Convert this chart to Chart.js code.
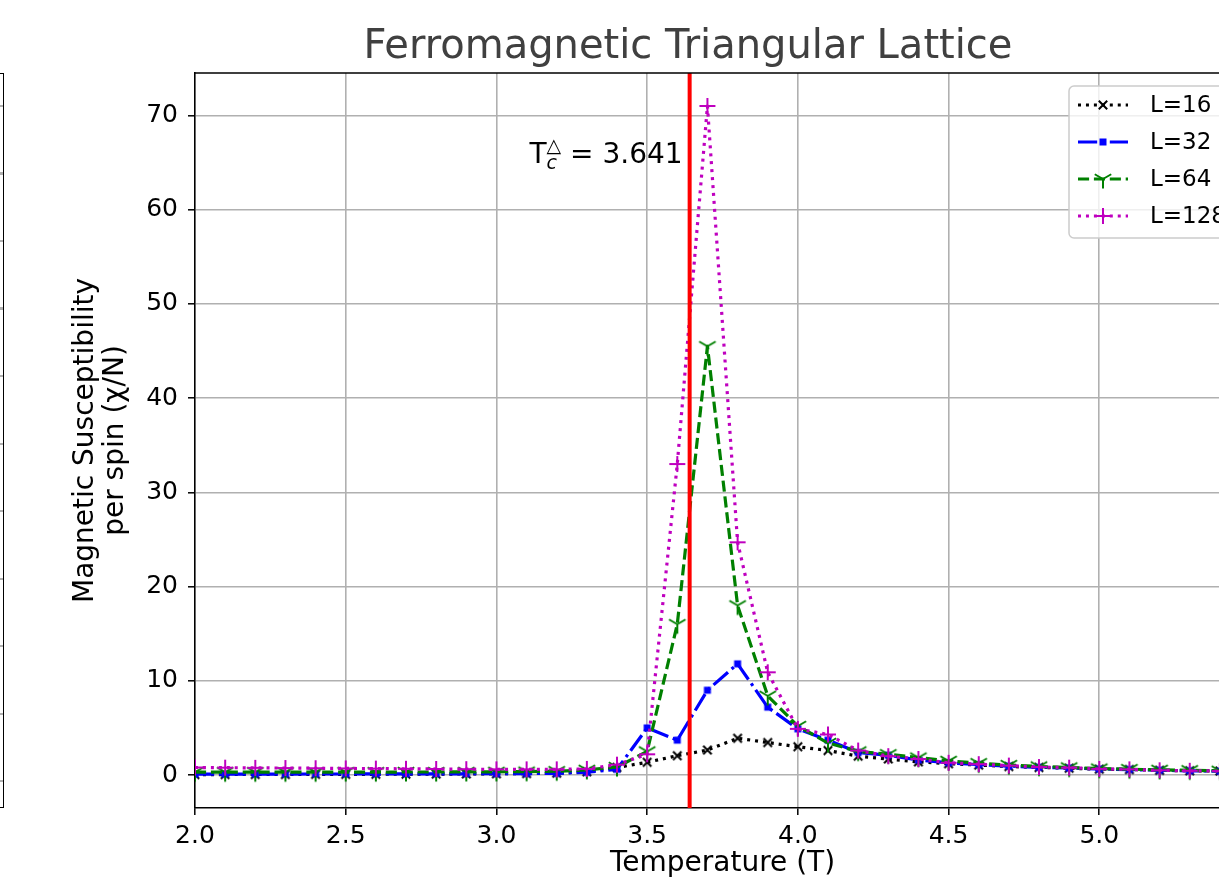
<!DOCTYPE html>
<html>
<head>
<meta charset="utf-8">
<script src="https://cdn.jsdelivr.net/npm/chart.js@4.4.1/dist/chart.umd.min.js"></script>
<style>
  html, body { margin: 0; padding: 0; overflow: hidden; background: #fff; }
  #wrap { position: relative; width: 1376px; height: 886px; }
  #c { position: absolute; left: 0; top: 0; }
  #edge {
    position: absolute; left: 0; top: 73px; width: 3px; height: 733px;
    border-right: 1.5px solid #000; border-top: 1.5px solid #000; border-bottom: 1.5px solid #000;
    background: repeating-linear-gradient(to bottom, transparent 0px, transparent 31px, #b0b0b0 31px, #b0b0b0 33px, transparent 33px, transparent 67.5px);
  }
</style>
</head>
<body>
<div id="wrap">
  <canvas id="c" width="1376" height="886"></canvas>
  <div id="edge"></div>
</div>
<script>
// ---------------- data ----------------
const TEMPS = [2.0,2.1,2.2,2.3,2.4,2.5,2.6,2.7,2.8,2.9,3.0,3.1,3.2,3.3,3.4,3.5,3.6,3.7,3.8,3.9,4.0,4.1,4.2,4.3,4.4,4.5,4.6,4.7,4.8,4.9,5.0,5.1,5.2,5.3,5.4,5.5];
const CHI_L16 = [0.05,0.05,0.06,0.06,0.07,0.07,0.08,0.09,0.10,0.11,0.13,0.16,0.20,
                 0.35,0.80,1.35,2.05,2.65,3.90,3.45,3.00,2.60,2.00,1.70,1.40,1.20,1.05,0.90,0.80,0.72,0.62,0.58,0.50,0.45,0.42,0.38];
const CHI_L32 = [0.10,0.10,0.10,0.10,0.11,0.11,0.12,0.12,0.13,0.13,0.14,0.15,0.18,
                 0.30,0.60,5.00,3.70,9.00,11.80,7.20,4.90,3.70,2.40,2.10,1.60,1.30,1.10,0.95,0.82,0.75,0.63,0.58,0.50,0.45,0.40,0.37];
const CHI_L64 = [0.30,0.30,0.30,0.30,0.30,0.31,0.31,0.32,0.32,0.33,0.34,0.36,0.40,
                 0.55,0.85,2.50,16.0,45.5,18.0,8.40,5.20,3.40,2.50,2.20,1.85,1.50,1.25,1.05,0.90,0.80,0.68,0.62,0.55,0.50,0.45,0.42];
const CHI_L128 = [0.80,0.78,0.76,0.74,0.72,0.70,0.68,0.66,0.64,0.62,0.60,0.60,0.60,
                  0.65,1.10,2.20,33.0,71.0,24.7,10.9,4.90,4.30,2.60,2.00,1.70,1.30,1.15,1.00,0.85,0.78,0.65,0.60,0.50,0.45,0.42,0.40];
const SERIES_LABELS = ['L=16','L=32','L=64','L=128'];
const X_TICKS = [2.0,2.5,3.0,3.5,4.0,4.5,5.0,5.5];
const Y_TICKS = [0,10,20,30,40,50,60,70];
const TC = 3.641;
const TC_LABEL_Y = 65;
const TITLE = 'Ferromagnetic Triangular Lattice';
const X_TITLE = 'Temperature (T)';
const Y_TITLE = ['Magnetic Susceptibility', 'per spin (\u03C7/N)'];

// ---------------- styling helpers ----------------
const FONT = 'DejaVu Sans';
function drawMarker(ctx, kind, x, y, color) {
  ctx.save();
  ctx.strokeStyle = color; ctx.fillStyle = color; ctx.setLineDash([]);
  ctx.lineCap = 'butt';
  ctx.beginPath();
  if (kind === 'x') {
    const d = 4.2; ctx.lineWidth = 2;
    ctx.moveTo(x-d, y-d); ctx.lineTo(x+d, y+d);
    ctx.moveTo(x+d, y-d); ctx.lineTo(x-d, y+d);
    ctx.stroke();
  } else if (kind === 'sq') {
    const s = 3.5;
    ctx.fillRect(x-s, y-s, 2*s, 2*s);
  } else if (kind === '+') {
    const d = 8; ctx.lineWidth = 2;
    ctx.moveTo(x-d, y); ctx.lineTo(x+d, y);
    ctx.moveTo(x, y-d); ctx.lineTo(x, y+d);
    ctx.stroke();
  } else if (kind === 'tri') {
    const r = 9.5; ctx.lineWidth = 2;
    ctx.moveTo(x, y); ctx.lineTo(x, y + r);
    ctx.moveTo(x, y); ctx.lineTo(x - r*0.866, y - r*0.5);
    ctx.moveTo(x, y); ctx.lineTo(x + r*0.866, y - r*0.5);
    ctx.stroke();
  }
  ctx.restore();
}
function markerImage(kind, color) {
  const c = document.createElement('canvas');
  c.width = 22; c.height = 22;
  drawMarker(c.getContext('2d'), kind, 11, 11, color);
  return c;
}

const STYLES = [
  { color: '#000000', dash: [3, 4.95], marker: 'x' },
  { color: '#0000ff', dash: [19.2, 4.8, 3, 4.8], marker: 'sq' },
  { color: '#008000', dash: [11.1, 4.8], marker: 'tri' },
  { color: '#bf00bf', dash: [3, 4.95], marker: '+' }
];
const SERIES = [CHI_L16, CHI_L32, CHI_L64, CHI_L128];

const datasets = SERIES.map((vals, i) => ({
  label: SERIES_LABELS[i],
  data: TEMPS.map((t, k) => ({ x: t, y: vals[k] })),
  borderColor: STYLES[i].color,
  backgroundColor: STYLES[i].color,
  borderWidth: 3.2,
  borderDash: STYLES[i].dash,
  borderCapStyle: 'butt',
  borderJoinStyle: 'round',
  pointStyle: markerImage(STYLES[i].marker, STYLES[i].color),
  pointRadius: 5,
  tension: 0,
  fill: false,
  clip: 0,
  order: SERIES.length - i
}));

// ---------------- plugins ----------------
const extrasPlugin = {
  id: 'extras',
  afterDatasetsDraw(chart) {
    const ctx = chart.ctx, ca = chart.chartArea;
    const xs = chart.scales.x, ys = chart.scales.y;
    const px = xs.getPixelForValue(TC);
    ctx.save();
    ctx.beginPath(); ctx.rect(ca.left, ca.top, ca.right - ca.left, ca.bottom - ca.top); ctx.clip();
    ctx.strokeStyle = '#ff0000'; ctx.lineWidth = 4; ctx.setLineDash([]);
    ctx.beginPath(); ctx.moveTo(px, ca.top); ctx.lineTo(px, ca.bottom); ctx.stroke();
    ctx.restore();

    ctx.save();
    ctx.fillStyle = '#000';
    ctx.textBaseline = 'alphabetic';
    const base = ys.getPixelForValue(TC_LABEL_Y);
    const big = '28px "' + FONT + '"', small = '19px "' + FONT + '"', smallIt = 'italic 19px "' + FONT + '"';
    const rest = ' = ' + TC.toFixed(3);
    ctx.font = big; const wRest = ctx.measureText(rest).width; const wT = ctx.measureText('T').width;
    ctx.font = small; const wSup = ctx.measureText('\u25B3').width;
    ctx.font = smallIt; const wSub = ctx.measureText('c').width;
    const wScr = Math.max(wSup, wSub);
    const right = px - 7;
    let x = right - wRest - wScr - wT;
    ctx.font = big; ctx.fillText('T', x, base); x += wT;
    ctx.font = small; ctx.fillText('\u25B3', x, base - 11);
    ctx.font = smallIt; ctx.fillText('c', x, base + 6);
    x += wScr;
    ctx.font = big; ctx.fillText(rest, x, base);
    ctx.restore();
  },
  afterDraw(chart) {
    const ctx = chart.ctx, ca = chart.chartArea;
    ctx.save();
    ctx.strokeStyle = '#000'; ctx.lineWidth = 1.5; ctx.setLineDash([]);
    ctx.beginPath();
    ctx.moveTo(ca.left, ca.top); ctx.lineTo(ca.right, ca.top); ctx.lineTo(ca.right, ca.bottom);
    ctx.stroke();
    ctx.restore();

    const bx = ca.right - 181, by = ca.top + 13, bw = 170, bh = 152, rr = 5;
    ctx.save();
    ctx.beginPath();
    ctx.moveTo(bx + rr, by); ctx.lineTo(bx + bw - rr, by); ctx.arcTo(bx + bw, by, bx + bw, by + rr, rr);
    ctx.lineTo(bx + bw, by + bh - rr); ctx.arcTo(bx + bw, by + bh, bx + bw - rr, by + bh, rr);
    ctx.lineTo(bx + rr, by + bh); ctx.arcTo(bx, by + bh, bx, by + bh - rr, rr);
    ctx.lineTo(bx, by + rr); ctx.arcTo(bx, by, bx + rr, by, rr);
    ctx.closePath();
    ctx.fillStyle = 'rgba(255,255,255,0.8)'; ctx.fill();
    ctx.strokeStyle = '#cccccc'; ctx.lineWidth = 1.5; ctx.stroke();
    chart.data.datasets.forEach((ds, i) => {
      const cy = by + 19 + i * 37;
      const x0 = bx + 9, x1 = bx + 59;
      ctx.save();
      ctx.strokeStyle = ds.borderColor; ctx.lineWidth = ds.borderWidth;
      ctx.lineCap = 'butt'; ctx.setLineDash(ds.borderDash);
      ctx.beginPath(); ctx.moveTo(x0, cy); ctx.lineTo(x1, cy); ctx.stroke();
      ctx.restore();
      drawMarker(ctx, STYLES[i].marker, (x0 + x1) / 2, cy, STYLES[i].color);
      ctx.fillStyle = '#000';
      ctx.font = '23px "' + FONT + '"';
      ctx.textBaseline = 'middle';
      ctx.fillText(ds.label, bx + 81, cy + 1);
    });
    ctx.restore();
  }
};

// ---------------- chart ----------------
Chart.defaults.font.family = FONT;
new Chart(document.getElementById('c'), {
  type: 'line',
  data: { datasets },
  plugins: [extrasPlugin],
  options: {
    responsive: false,
    animation: false,
    events: [],
    layout: { padding: 0 },
    plugins: {
      legend: { display: false },
      tooltip: { enabled: false },
      title: {
        display: true,
        text: TITLE,
        color: '#404040',
        font: { family: FONT, size: 40, weight: 'normal', lineHeight: 1.2 },
        padding: { top: 24, bottom: 1 }
      }
    },
    scales: {
      x: {
        type: 'linear',
        min: 2.0, max: 5.5,
        afterBuildTicks: (s) => { s.ticks = X_TICKS.map(v => ({ value: v })); },
        afterFit: (s) => { s.height = 78; },
        ticks: {
          autoSkip: false, maxRotation: 0, padding: 6,
          color: '#000', font: { family: FONT, size: 25 },
          callback: (v) => Number(v).toFixed(1)
        },
        grid: { color: '#b0b0b0', lineWidth: 1.6, drawTicks: true, tickLength: 7, tickColor: '#000', tickWidth: 1.5 },
        border: { display: true, color: '#000', width: 1.5 },
        title: {
          display: true, text: X_TITLE, color: '#000',
          font: { family: FONT, size: 28, lineHeight: 1.07 },
          padding: { top: 0, bottom: 7 }
        }
      },
      y: {
        type: 'linear',
        position: 'left',
        min: -3.5, max: 74.5,
        afterBuildTicks: (s) => { s.ticks = Y_TICKS.map(v => ({ value: v })); },
        afterFit: (s) => { s.width = 195; },
        ticks: {
          padding: 10, color: '#000', font: { family: FONT, size: 25 },
          callback: (v) => String(v)
        },
        grid: { color: '#b0b0b0', lineWidth: 1.6, drawTicks: true, tickLength: 7, tickColor: '#000', tickWidth: 1.5 },
        border: { display: true, color: '#000', width: 1.5 },
        title: {
          display: true, text: Y_TITLE, color: '#000',
          font: { family: FONT, size: 28, lineHeight: 1.07 },
          padding: { top: 71, bottom: 0 }
        }
      },
      yR: {
        type: 'linear',
        position: 'right',
        display: true,
        afterFit: (s) => { s.width = 126; },
        ticks: { display: false },
        grid: { display: false, drawTicks: false },
        border: { display: false }
      }
    }
  }
});
</script>
</body>
</html>
